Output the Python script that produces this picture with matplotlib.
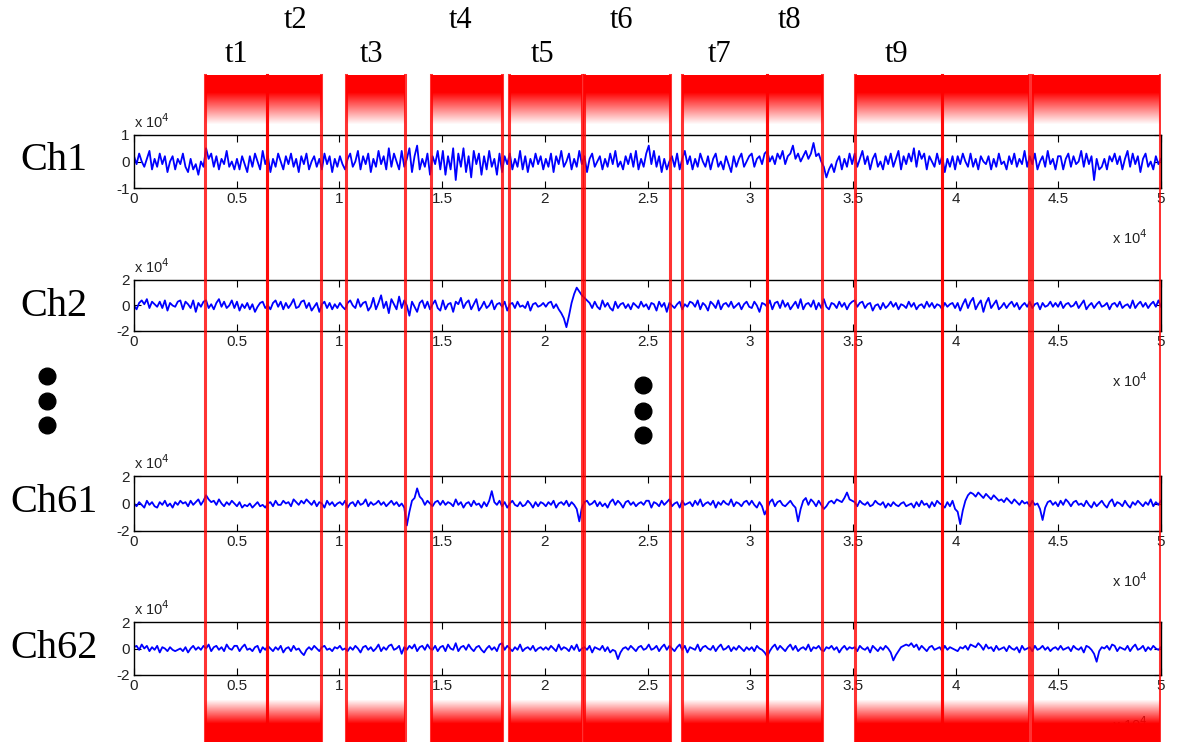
import numpy as np
import matplotlib.pyplot as plt

# signal samples, units of 1e3 (about 400 samples over 0..5)
ch1 = [2,-1,3,0,-2,1,4,-3,1,-2,3,-1,2,-4,0,2,-3,1,-1,3,-2,-4,1,-3,-1,-5,0,-2,5,1,3,-2,2,-3,1,-1,4,-2,0,-3,
       1,-3,2,-1,-4,2,-2,3,0,-3,4,-1,2,-4,1,-2,3,0,-3,2,-1,3,-2,1,-4,2,-1,3,-3,0,2,-2,1,-3,3,-1,2,-4,1,-2,
       2,-1,-3,1,3,-2,0,4,-3,2,-1,3,-4,1,-2,4,-1,2,-3,5,-2,3,0,-3,4,-2,1,5,-4,2,6,-3,1,-2,3,-5,2,-1,4,-3,
       4,-5,2,-3,5,-7,3,-2,5,-4,2,-6,4,-1,3,-5,2,-3,4,-2,1,-5,3,-4,2,-1,3,-3,1,-2,4,-3,2,-4,1,-2,3,-1,2,-3,
       1,-2,3,-4,2,-1,4,-2,0,3,-3,1,-2,4,-1,2,-4,1,3,-2,0,2,-3,1,-2,3,-1,4,-2,0,-3,2,-1,3,-2,4,-3,1,-2,3,
       6,-1,4,-2,2,-4,1,-3,0,2,-2,3,-3,1,4,-1,2,-3,1,-2,3,0,-2,2,-3,1,3,-2,0,-3,2,-1,-4,2,-2,1,3,-2,0,2,
       3,-2,1,2,-1,3,4,0,2,-1,3,1,4,-1,2,3,6,1,3,0,2,4,1,3,7,2,3,0,-2,-6,-3,-1,-4,0,2,-3,1,-2,3,-1,
       3,-2,1,4,-1,2,-3,1,3,-2,0,-3,2,-1,3,-2,1,4,-3,2,-1,3,0,5,-2,4,1,3,-3,2,0,-2,3,-1,2,-4,1,-2,2,-3,
       2,-1,3,0,-2,3,-2,1,-3,2,0,-1,2,-3,1,-2,3,-1,0,-3,2,-1,3,-2,1,-1,4,-2,2,-1,3,-3,0,2,-2,4,-1,1,-3,2,
       2,-3,1,3,-2,2,-1,0,4,-2,3,-1,2,-7,1,-3,-2,1,-3,2,0,3,-1,2,-3,1,4,-2,3,-1,2,-4,1,3,-2,0,-3,2,-1,1]
ch2 = [0,-3,2,4,1,5,-2,3,1,-1,3,-2,4,-4,2,0,-1,3,4,-3,3,1,-2,4,-5,2,-1,3,4,-2,1,-3,2,5,-1,3,-2,0,4,-2,
       3,-4,1,-2,2,-3,1,-5,-1,2,3,-2,0,-3,2,4,-1,3,-3,2,-2,1,5,-2,-1,3,4,-2,2,-4,-1,2,-5,1,3,-2,2,-3,1,-2,
       2,-1,-3,2,4,0,-2,5,-1,2,3,-4,-1,6,-3,2,8,-2,3,-6,5,1,-3,7,-2,4,0,-8,3,-1,-5,2,4,-2,3,-3,1,4,-2,-4,
       4,-3,1,2,-5,3,1,6,-2,2,4,-3,1,5,-4,-1,3,-2,0,4,-3,1,2,-1,3,-4,1,2,-2,3,-1,0,-2,3,-4,1,2,-1,0,2,
       -1,2,3,-2,1,-3,-6,-10,-17,-8,2,9,14,11,8,6,4,2,-2,3,-1,-3,4,-1,2,-2,-4,3,-2,1,2,-2,1,-3,2,0,-2,3,-1,1,
       -3,2,1,-4,3,-1,2,-5,2,0,-2,1,3,-3,1,-1,3,2,-1,4,-3,2,0,-4,3,1,-2,4,-3,1,2,-1,3,-2,0,2,-3,1,3,-1,
       -2,3,0,-5,2,1,-1,4,-3,2,3,-2,4,-1,2,-3,0,3,-2,5,-3,1,2,-1,4,-3,2,-2,5,-1,-3,2,1,-2,3,-1,2,-3,1,3,
       4,-1,2,3,-2,1,2,-4,0,1,-3,2,-2,0,3,-1,2,-3,1,0,-2,3,-1,2,-3,0,1,-2,3,-1,2,-2,1,0,-3,2,-1,1,2,-2,
       2,-4,1,5,-2,3,6,-3,1,4,-5,2,6,-2,1,4,-3,-1,2,-2,1,3,-1,2,-3,0,2,-1,3,-2,1,2,-3,2,-1,0,3,-1,2,-1,
       3,-2,1,2,-1,0,3,-2,1,4,-3,0,2,-2,1,3,-1,0,2,-3,1,2,-1,3,-2,0,1,-2,4,-2,1,3,-1,2,-2,1,3,-1,4,-1]
ch61 = [0,-2,1,-1,-3,2,-1,1,-2,-3,1,-1,2,-2,0,-3,1,-1,2,0,1,-2,2,-1,1,3,-1,2,6,3,1,2,-1,3,0,-2,1,-1,2,0,
        -2,1,-3,-1,-2,0,-3,-1,1,-2,-1,-3,0,1,-2,2,-1,-1,2,0,1,-2,3,1,-1,2,0,3,1,-1,2,-2,1,0,-3,2,-1,1,-2,0,
        1,-1,2,-3,0,1,-2,2,-1,0,3,-2,1,-1,0,2,-1,1,-2,0,2,-1,1,-2,0,-3,-16,-6,2,4,11,5,3,-1,2,0,-2,1,2,-1,
        2,-1,1,0,-2,3,-1,1,-3,0,1,-2,2,-1,0,-3,1,-2,2,9,1,-1,2,-2,1,-3,0,2,-1,-2,1,-2,-1,2,0,-3,1,-2,1,0,
        -2,1,-1,2,-3,0,1,-1,2,-2,1,-1,-4,-13,-3,1,2,-1,0,2,-2,1,-2,0,-3,1,3,-1,2,0,-3,1,2,-1,1,-2,0,1,-1,2,
        2,-3,1,0,-2,2,-1,1,3,-2,0,1,-3,2,-1,0,1,-2,2,-1,3,-2,0,1,-1,2,-3,1,-1,2,0,-1,3,-2,1,0,-2,1,2,-1,
        2,-1,-3,1,-2,-8,-4,1,3,-2,1,2,-1,-2,0,2,-1,-3,-13,-4,2,4,-1,3,1,-2,2,-1,-4,-2,1,2,0,3,2,1,4,8,3,2,
        1,-2,2,0,-1,1,-2,-1,2,0,-1,1,-3,0,-2,1,-1,-2,0,1,-2,-1,0,-3,1,-2,2,-1,0,-3,1,-2,2,0,-1,-3,1,-2,2,-4,
        -6,-15,-5,2,6,8,7,5,8,6,4,7,5,3,6,4,2,3,1,4,2,0,3,1,-1,2,0,1,-2,2,-1,0,-4,-12,-3,1,2,-1,1,-2,
        2,-1,3,1,-2,1,2,-1,0,-2,2,-1,-3,1,-2,0,2,-1,-3,1,3,-2,1,0,-2,2,-1,-3,1,-1,2,0,-2,1,-1,3,-2,1,-1,2]
ch62 = [1,2,-1,3,0,2,-2,1,-1,2,-3,1,0,-2,1,-1,-2,-1,0,-2,1,-3,0,2,-1,1,-1,2,0,3,-2,1,2,-1,1,-2,3,0,-1,2,
        2,-2,1,3,-1,0,-2,1,2,-3,1,-1,2,0,-2,1,-1,2,-3,0,1,-2,2,-1,0,-3,-5,-1,1,-1,2,0,-2,1,2,-1,0,-2,1,0,
        2,-1,0,-2,1,-1,2,0,-3,1,2,-1,1,-2,0,3,-2,1,-1,2,3,-1,0,2,-4,1,-1,2,0,3,-2,1,2,-1,3,0,-1,2,-2,1,
        2,-2,3,0,-1,4,-2,1,2,-1,3,0,-2,1,2,-1,-3,0,2,-1,1,-2,3,4,-1,2,0,-2,1,-1,3,-2,0,1,-1,2,-2,0,1,-1,
        1,-1,2,0,-2,3,-1,1,0,-2,2,-1,3,-2,0,1,-1,2,-3,1,0,-1,2,-2,1,-3,-1,-2,-8,-3,0,1,-1,2,0,-2,1,2,-1,0,
        3,-1,0,2,-2,1,3,-1,2,0,-2,1,3,-1,2,-3,1,0,-1,3,-2,1,2,0,-1,2,-2,1,3,-1,0,2,-2,1,-1,2,0,-2,1,-1,
        1,-2,2,0,-1,-3,-6,-2,1,3,-1,2,0,-2,1,3,-1,2,-2,0,1,-1,3,-2,1,0,2,-1,-2,1,0,2,-1,1,-3,0,2,-1,1,0,
        1,-2,2,0,-1,1,-3,2,0,-2,1,-1,2,0,-3,-9,-5,-2,1,2,3,2,4,1,3,-1,2,0,-2,1,2,-1,0,1,-2,2,-1,1,0,-1,
        -2,1,0,2,-1,3,2,1,4,2,-1,3,0,1,-2,2,-1,0,1,-2,2,0,-1,1,-3,2,-1,0,1,-2,2,-1,0,2,-1,1,-2,0,1,-1,
        2,-1,0,1,-2,2,0,-1,1,-3,2,1,-1,-4,-10,-2,1,0,2,-1,3,2,-2,1,0,-1,2,-2,1,3,-1,0,2,-2,1,-1,2,0,-1,1]

channels = ['Ch1', 'Ch2', 'Ch61', 'Ch62']
signals = [ch1, ch2, ch61, ch62]
ylims = [1, 2, 2, 2]

# marked time windows (x units)
band_start = [0.348, 0.646, 1.032, 1.444, 1.826, 2.189, 2.668, 3.082, 3.510, 3.934, 4.372]
band_end   = [0.646, 0.909, 1.317, 1.794, 2.180, 2.610, 3.082, 3.350, 3.934, 4.357, 4.995]
t_labels = ['t1', 't2', 't3', 't4', 't5', 't6', 't7', 't8', 't9']
t_x = [0.501, 0.789, 1.159, 1.592, 1.991, 2.371, 2.853, 3.194, 3.715]

W, H = 1180, 742
fig = plt.figure(figsize=(11.8, 7.42), dpi=100)

left, width = 134 / W, 1027 / W
tops = [135, 280, 476, 622]
bottoms = [188, 331, 531, 675]
label_y = [160, 306, 503, 648]

for i in range(4):
    b = 1 - bottoms[i] / H
    h = (bottoms[i] - tops[i]) / H
    ax = fig.add_axes([left, b, width, h])
    sig = np.array(signals[i]) / 10.0
    x = np.linspace(0, 5, len(sig))
    ax.plot(x, sig, color='#0000ff', lw=1.3)
    ax.set_xlim(0, 5)
    ax.set_ylim(-ylims[i], ylims[i])
    ax.set_yticks([-ylims[i], 0, ylims[i]])
    ax.set_yticklabels([str(-ylims[i]), '0', str(ylims[i])])
    xt = np.arange(0, 5.01, 0.5)
    ax.set_xticks(xt)
    ax.set_xticklabels(['%g' % v for v in xt])
    ax.tick_params(direction='in', top=True, right=True, length=5, labelsize=11, pad=3,
                   labelcolor='#222222')
    for lab in ax.get_xticklabels() + ax.get_yticklabels():
        lab.set_fontfamily('Liberation Sans')
    for s in ax.spines.values():
        s.set_linewidth(1.0)
    ax.annotate('x 10$^4$', xy=(0, 1), xycoords='axes fraction', xytext=(0, 3),
                textcoords='offset points', ha='left', va='bottom', fontsize=10.5,
                family='Liberation Sans', color='#222222')
    ax.annotate('x 10$^4$', xy=(0.952, 0), xycoords='axes fraction', xytext=(0, -36),
                textcoords='offset points', ha='left', va='center', fontsize=10.5,
                family='Liberation Sans', color='#222222')
    fig.text(54 / W, 1 - label_y[i] / H, channels[i], ha='center', va='center',
             fontsize=29, family='Liberation Serif')

# dots in figure pixel coordinates
axd = fig.add_axes([0, 0, 1, 1], zorder=4)
axd.set_xlim(0, W)
axd.set_ylim(H, 0)
axd.axis('off')
axd.plot([47, 47, 47], [376, 401, 425], 'o', color='black', ms=12)
axd.plot([643, 643, 643], [385, 411, 435], 'o', color='black', ms=12)

# red windows overlay
axb = fig.add_axes([left, 0, width, 1], zorder=5)
axb.set_xlim(0, 5)
axb.set_ylim(H, 0)
axb.axis('off')
axb.patch.set_alpha(0)

yy = np.arange(75, H + 1)
alpha = np.zeros(len(yy))
alpha = np.where(yy < 92, 1.0, alpha)
top_fade = (yy >= 92) & (yy < 124)
alpha[top_fade] = 1 - (yy[top_fade] - 92) / 32.0
bot_fade = (yy >= 700) & (yy < 724)
alpha[bot_fade] = (yy[bot_fade] - 700) / 24.0
alpha[yy >= 724] = 1.0
grad = np.zeros((len(yy), 1, 4))
grad[:, 0, 0] = 1.0
grad[:, 0, 3] = alpha

for x0, x1 in zip(band_start, band_end):
    axb.imshow(grad, extent=(x0, x1, H, 75), aspect='auto', interpolation='bilinear')
    axb.plot([x0, x0], [75, H], color='#ff0000', lw=2.2, alpha=0.8)
    axb.plot([x1, x1], [75, H], color='#ff0000', lw=2.2, alpha=0.8)
axb.set_xlim(0, 5)
axb.set_ylim(H, 0)

for k, lab in enumerate(t_labels):
    ty = 20 if k % 2 == 1 else 55
    axb.text(t_x[k], ty, lab, ha='center', va='center', fontsize=22,
             family='Liberation Serif')

fig.savefig('out.png', dpi=100)
